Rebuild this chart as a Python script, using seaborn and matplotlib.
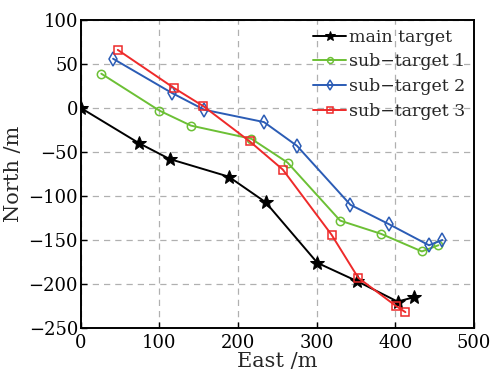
import pandas as pd
import matplotlib
import matplotlib.pyplot as plt
import seaborn as sns

matplotlib.use('Agg')

# Données
main_x = [0, 74, 113, 188, 235, 301, 352, 403, 424]
main_y = [0, -40, -58, -78, -107, -176, -197, -220, -215]

sub1_x = [26, 100, 140, 217, 263, 330, 382, 434, 455]
sub1_y = [39, -3, -20, -35, -62, -128, -143, -163, -156]

sub2_x = [41, 116, 157, 233, 275, 343, 392, 443, 460]
sub2_y = [56, 17, -2, -16, -43, -110, -132, -156, -150]

sub3_x = [47, 118, 156, 215, 257, 319, 353, 401, 413]
sub3_y = [66, 23, 2, -38, -70, -144, -193, -225, -232]

labels = ["main target", "sub\u2212target 1", "sub\u2212target 2", "sub\u2212target 3"]

sns.set_theme(style="ticks")
plt.rcParams['font.family'] = ['DejaVu Serif']

fig = plt.figure(figsize=(4.93, 3.77), dpi=100)
ax = fig.add_axes([0.164, 0.130, 0.797, 0.817])

sns.lineplot(x=main_x, y=main_y, sort=False, ax=ax, color='black', marker='*',
             markersize=10, markeredgecolor='black', linewidth=1.4, label=labels[0])
sns.lineplot(x=sub1_x, y=sub1_y, sort=False, ax=ax, color='#6cc035', marker='o',
             markersize=6, markerfacecolor='none', markeredgecolor='#6cc035',
             markeredgewidth=1.1, linewidth=1.4, label=labels[1])
sns.lineplot(x=sub2_x, y=sub2_y, sort=False, ax=ax, color='#2b5cb5', marker='d',
             markersize=7, markerfacecolor='none', markeredgecolor='#2b5cb5',
             markeredgewidth=1.1, linewidth=1.4, label=labels[2])
sns.lineplot(x=sub3_x, y=sub3_y, sort=False, ax=ax, color='#ee2a2a', marker='s',
             markersize=6, markerfacecolor='none', markeredgecolor='#ee2a2a',
             markeredgewidth=1.1, linewidth=1.4, label=labels[3])

ax.set_xlim(0, 500)
ax.set_ylim(-250, 100)
ax.set_xticks(range(0, 501, 100))
ax.set_yticks(range(-250, 101, 50))
ax.grid(True, linestyle=(0, (5, 4)), color='#b0b0b0', linewidth=0.9)
ax.tick_params(direction='in', length=4, width=1, labelsize=13, colors='black')
ax.tick_params(axis='x', pad=4.5)
ax.tick_params(axis='y', pad=2)
for s in ax.spines.values():
    s.set_linewidth(1.4)
    s.set_color('black')

ax.set_xlabel("East /m", fontsize=15, labelpad=0)
ax.set_ylabel("North /m", fontsize=15, labelpad=4)

leg = ax.legend(loc='upper right', frameon=False, fontsize=12.5, handlelength=1.9,
                handletextpad=0.15, labelspacing=0.45, borderaxespad=0.1,
                markerscale=0.7)

fig.savefig("out.png", dpi=100)
